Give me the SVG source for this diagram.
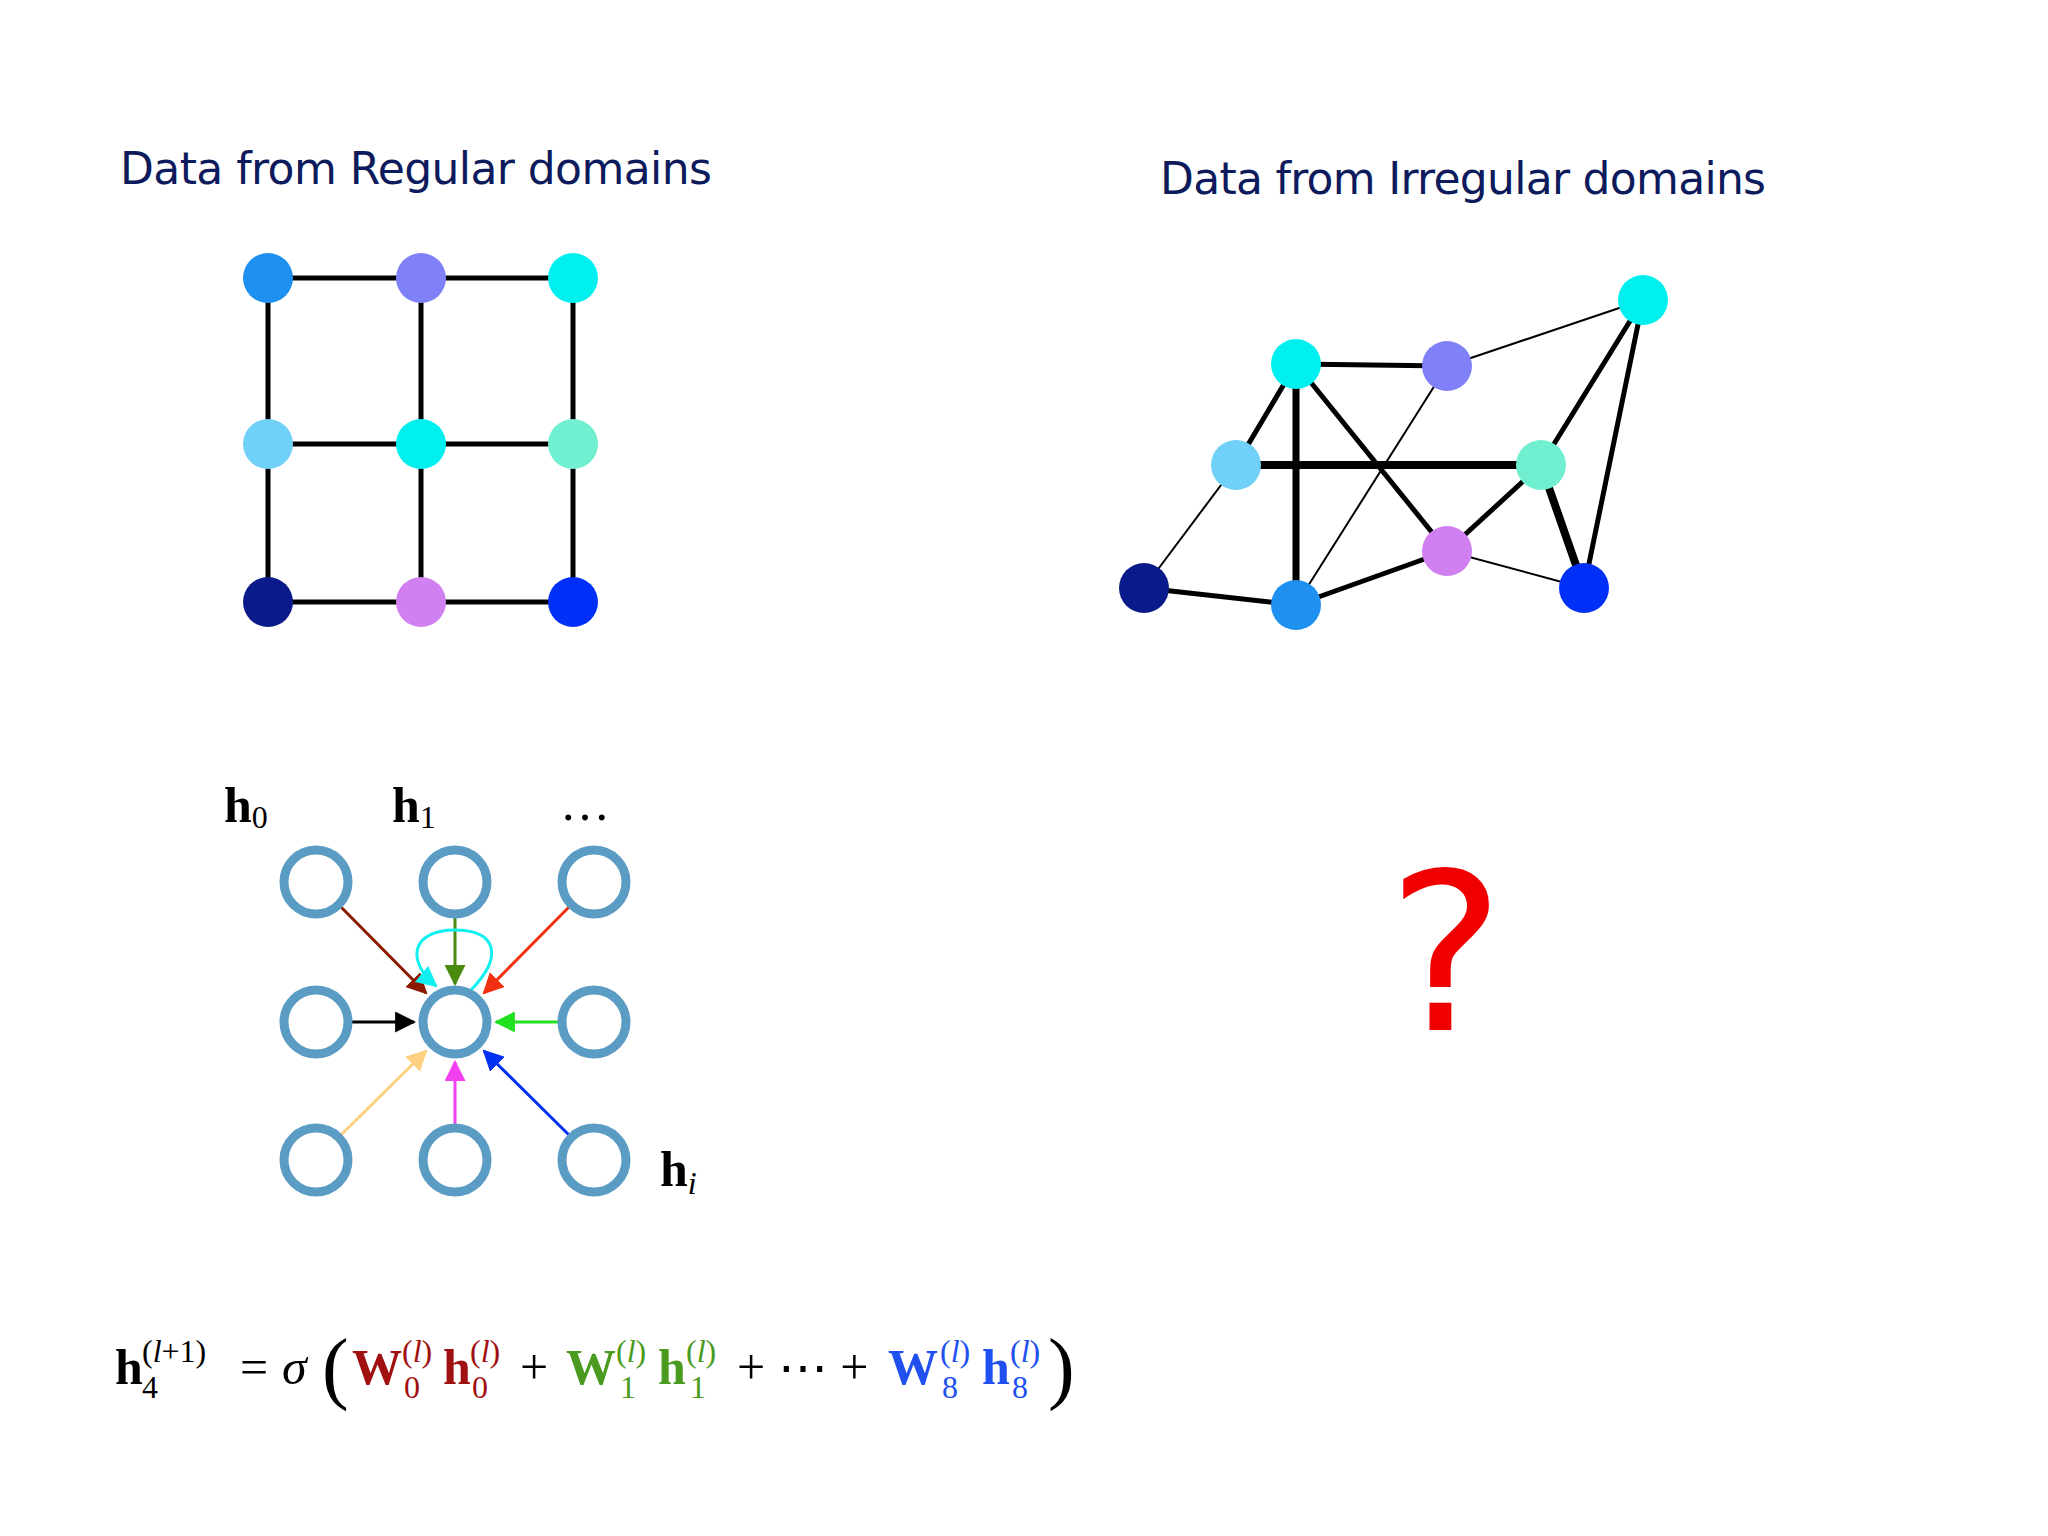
<svg xmlns="http://www.w3.org/2000/svg" width="2048" height="1536" viewBox="0 0 2048 1536">
<style>
.title{font-family:"DejaVu Sans","Liberation Sans",sans-serif;font-size:44px;fill:#0d1a5c}
.e{stroke:#000;stroke-linecap:round;fill:none}
.ring{fill:none;stroke:#5b9cc4;stroke-width:9}
.m{font-family:"Liberation Serif",serif;font-size:50px}
.b{font-weight:bold}
.s{font-size:32px}
.it{font-style:italic}
</style>
<defs>
<marker id="a1" viewBox="0 0 10 10" refX="9" refY="5" markerWidth="7" markerHeight="7" orient="auto"><path d="M0,0L10,5L0,10z" fill="#8b1a00"/></marker>
<marker id="a2" viewBox="0 0 10 10" refX="9" refY="5" markerWidth="7" markerHeight="7" orient="auto"><path d="M0,0L10,5L0,10z" fill="#4a8a10"/></marker>
<marker id="a3" viewBox="0 0 10 10" refX="9" refY="5" markerWidth="7" markerHeight="7" orient="auto"><path d="M0,0L10,5L0,10z" fill="#f03010"/></marker>
<marker id="a4" viewBox="0 0 10 10" refX="9" refY="5" markerWidth="7" markerHeight="7" orient="auto"><path d="M0,0L10,5L0,10z" fill="#000"/></marker>
<marker id="a5" viewBox="0 0 10 10" refX="9" refY="5" markerWidth="7" markerHeight="7" orient="auto"><path d="M0,0L10,5L0,10z" fill="#20e020"/></marker>
<marker id="a6" viewBox="0 0 10 10" refX="9" refY="5" markerWidth="7" markerHeight="7" orient="auto"><path d="M0,0L10,5L0,10z" fill="#ffd080"/></marker>
<marker id="a7" viewBox="0 0 10 10" refX="9" refY="5" markerWidth="7" markerHeight="7" orient="auto"><path d="M0,0L10,5L0,10z" fill="#f040f0"/></marker>
<marker id="a8" viewBox="0 0 10 10" refX="9" refY="5" markerWidth="7" markerHeight="7" orient="auto"><path d="M0,0L10,5L0,10z" fill="#0030f0"/></marker>
<marker id="a9" viewBox="0 0 10 10" refX="9" refY="5" markerWidth="7" markerHeight="7" orient="auto"><path d="M0,0L10,5L0,10z" fill="#10f0f0"/></marker>
</defs>
<rect width="2048" height="1536" fill="#fff"/>
<text class="title" x="120" y="184" textLength="592">Data from Regular domains</text>
<text class="title" x="1160" y="194" textLength="606">Data from Irregular domains</text>

<g id="regular-edges">
<path class="e" stroke-width="5" d="M268,278H573V602H268Z M421,278V602 M268,444H573"/>
</g>
<g id="reg-00"><circle cx="268" cy="278" r="25" fill="#1e90f0"/></g>
<g id="reg-01"><circle cx="421" cy="278" r="25" fill="#8080f8"/></g>
<g id="reg-02"><circle cx="573" cy="278" r="25" fill="#00f0f0"/></g>
<g id="reg-10"><circle cx="268" cy="444" r="25" fill="#70d0f8"/></g>
<g id="reg-11"><circle cx="421" cy="444" r="25" fill="#00f0f0"/></g>
<g id="reg-12"><circle cx="573" cy="444" r="25" fill="#70f0d0"/></g>
<g id="reg-20"><circle cx="268" cy="602" r="25" fill="#0a1a8a"/></g>
<g id="reg-21"><circle cx="421" cy="602" r="25" fill="#d080f0"/></g>
<g id="reg-22"><circle cx="573" cy="602" r="25" fill="#0030f8"/></g>

<g id="irregular-edges" class="e">
<line x1="1296" y1="364" x2="1447" y2="366" stroke-width="5"/>
<line x1="1447" y1="366" x2="1643" y2="300" stroke-width="2"/>
<line x1="1296" y1="364" x2="1236" y2="465" stroke-width="5"/>
<line x1="1296" y1="364" x2="1296" y2="605" stroke-width="7"/>
<line x1="1296" y1="364" x2="1447" y2="551" stroke-width="5"/>
<line x1="1236" y1="465" x2="1541" y2="465" stroke-width="8"/>
<line x1="1236" y1="465" x2="1144" y2="588" stroke-width="2"/>
<line x1="1144" y1="588" x2="1296" y2="605" stroke-width="5"/>
<line x1="1296" y1="605" x2="1447" y2="551" stroke-width="5"/>
<line x1="1296" y1="605" x2="1447" y2="366" stroke-width="2"/>
<line x1="1447" y1="551" x2="1541" y2="465" stroke-width="5"/>
<line x1="1541" y1="465" x2="1643" y2="300" stroke-width="5"/>
<line x1="1541" y1="465" x2="1584" y2="588" stroke-width="8"/>
<line x1="1643" y1="300" x2="1584" y2="588" stroke-width="5"/>
<line x1="1447" y1="551" x2="1584" y2="588" stroke-width="2"/>
</g>
<g id="irr-A"><circle cx="1643" cy="300" r="25" fill="#00f0f0"/></g>
<g id="irr-B"><circle cx="1296" cy="364" r="25" fill="#00f0f0"/></g>
<g id="irr-C"><circle cx="1447" cy="366" r="25" fill="#8080f8"/></g>
<g id="irr-D"><circle cx="1236" cy="465" r="25" fill="#70d0f8"/></g>
<g id="irr-E"><circle cx="1541" cy="465" r="25" fill="#70f0d0"/></g>
<g id="irr-F"><circle cx="1447" cy="551" r="25" fill="#d080f0"/></g>
<g id="irr-G"><circle cx="1144" cy="588" r="25" fill="#0a1a8a"/></g>
<g id="irr-H"><circle cx="1296" cy="605" r="25" fill="#1e90f0"/></g>
<g id="irr-I"><circle cx="1584" cy="588" r="25" fill="#0030f8"/></g>

<text x="1446" y="1030" text-anchor="middle" font-family="DejaVu Sans, sans-serif" font-size="220" fill="#f00000">?</text>

<g id="conv-labels" class="m b" font-size="60">
<text x="224" y="822">h<tspan class="s" font-weight="normal" font-size="36" dy="6">0</tspan></text>
<text x="392" y="822">h<tspan class="s" font-weight="normal" font-size="36" dy="6">1</tspan></text>
<text x="560" y="820" font-weight="normal">…</text>
<text x="660" y="1186">h<tspan class="s it" font-weight="normal" font-size="36" dy="8">i</tspan></text>
</g>
<g id="conv-arrows" fill="none" stroke-width="3">
<line x1="341" y1="907" x2="426" y2="993" stroke="#8b1a00" marker-end="url(#a1)"/>
<line x1="455" y1="918" x2="455" y2="984" stroke="#4a8a10" marker-end="url(#a2)"/>
<line x1="569" y1="907" x2="484" y2="993" stroke="#f03010" marker-end="url(#a3)"/>
<line x1="352" y1="1022" x2="414" y2="1022" stroke="#000" marker-end="url(#a4)"/>
<line x1="558" y1="1022" x2="496" y2="1022" stroke="#20e020" marker-end="url(#a5)"/>
<line x1="341" y1="1135" x2="426" y2="1051" stroke="#ffd080" marker-end="url(#a6)"/>
<line x1="455" y1="1124" x2="455" y2="1062" stroke="#f040f0" marker-end="url(#a7)"/>
<line x1="569" y1="1135" x2="484" y2="1051" stroke="#0030f0" marker-end="url(#a8)"/>
<path d="M471,990 C505,955 495,930 455,930 C412,930 405,960 436,986" stroke="#10f0f0" marker-end="url(#a9)"/>
</g>
<g id="conv-nodes">
<circle class="ring" cx="316" cy="882" r="32"/><circle class="ring" cx="455" cy="882" r="32"/><circle class="ring" cx="594" cy="882" r="32"/>
<circle class="ring" cx="316" cy="1022" r="32"/><circle class="ring" cx="455" cy="1022" r="32"/><circle class="ring" cx="594" cy="1022" r="32"/>
<circle class="ring" cx="316" cy="1160" r="32"/><circle class="ring" cx="455" cy="1160" r="32"/><circle class="ring" cx="594" cy="1160" r="32"/>
</g>

<g id="formula" class="m">
<text x="115" y="1384" class="b">h</text>
<text x="142" y="1362" class="s">(<tspan class="it">l</tspan>+1)</text>
<text x="142" y="1398" class="s">4</text>
<text x="240" y="1384">=</text>
<text x="282" y="1384" class="it">σ</text>
<text x="322" y="1394" font-size="80">(</text>
<g fill="#a01010">
<text x="352" y="1384" class="b">W</text><text x="402" y="1362" class="s">(<tspan class="it">l</tspan>)</text><text x="404" y="1398" class="s">0</text>
<text x="443" y="1384" class="b">h</text><text x="470" y="1362" class="s">(<tspan class="it">l</tspan>)</text><text x="472" y="1398" class="s">0</text>
</g>
<text x="520" y="1384">+</text>
<g fill="#4a9a20">
<text x="566" y="1384" class="b">W</text><text x="616" y="1362" class="s">(<tspan class="it">l</tspan>)</text><text x="620" y="1398" class="s">1</text>
<text x="658" y="1384" class="b">h</text><text x="686" y="1362" class="s">(<tspan class="it">l</tspan>)</text><text x="690" y="1398" class="s">1</text>
</g>
<text x="737" y="1384">+ ⋯ +</text>
<g fill="#2050f0">
<text x="888" y="1384" class="b">W</text><text x="940" y="1362" class="s">(<tspan class="it">l</tspan>)</text><text x="942" y="1398" class="s">8</text>
<text x="982" y="1384" class="b">h</text><text x="1010" y="1362" class="s">(<tspan class="it">l</tspan>)</text><text x="1012" y="1398" class="s">8</text>
</g>
<text x="1048" y="1394" font-size="80">)</text>
</g>
</svg>
